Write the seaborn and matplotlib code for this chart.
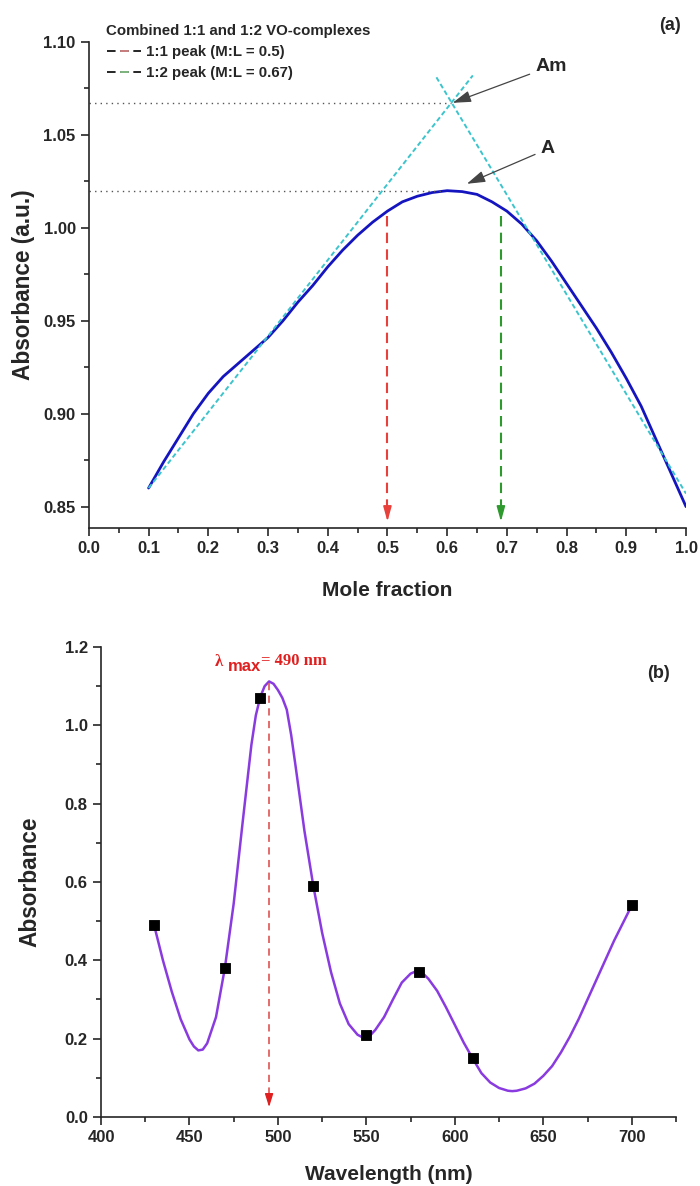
import matplotlib
matplotlib.use("Agg")
import matplotlib.pyplot as plt
from matplotlib.lines import Line2D
from matplotlib.legend_handler import HandlerTuple
from matplotlib.ticker import MultipleLocator
import numpy as np
import pandas as pd
import seaborn as sns

# ---- panel (a): Job's plot ----
mole_fraction = [0.100, 0.125, 0.150, 0.175, 0.200, 0.225, 0.250, 0.275, 0.300, 0.325,
                 0.350, 0.375, 0.400, 0.425, 0.450, 0.475, 0.500, 0.525, 0.550, 0.575,
                 0.600, 0.625, 0.650, 0.675, 0.700, 0.725, 0.750, 0.775, 0.800, 0.825,
                 0.850, 0.875, 0.900, 0.925, 0.950, 0.975, 1.000]
absorbance_a = [0.860, 0.874, 0.887, 0.900, 0.911, 0.920, 0.927, 0.934, 0.941, 0.950,
                0.960, 0.969, 0.979, 0.988, 0.996, 1.003, 1.009, 1.014, 1.017, 1.019,
                1.020, 1.0195, 1.018, 1.014, 1.009, 1.002, 0.993, 0.982, 0.970, 0.958,
                0.946, 0.933, 0.919, 0.904, 0.886, 0.868, 0.850]
tangent_left_x = [0.100, 0.643]
tangent_left_y = [0.860, 1.082]
tangent_right_x = [0.582, 1.000]
tangent_right_y = [1.081, 0.857]
am_point = (0.607, 1.067)
a_point = (0.60, 1.020)
peak_11 = 0.5
peak_12 = 0.69

# ---- panel (b): spectrum ----
wl_points = [430, 470, 490, 520, 550, 580, 610, 700]
abs_points = [0.49, 0.38, 1.07, 0.59, 0.21, 0.37, 0.15, 0.54]
wl_curve = [430, 435, 440, 445, 450, 452.5, 455, 457.5, 460, 465,
            470, 475, 480, 485, 487.5, 490, 492.5, 495, 497.5, 500,
            502.5, 505, 507.5, 510, 515, 520, 525, 530, 535, 540,
            545, 547.5, 550, 552.5, 555, 560, 565, 570, 575, 577.5,
            580, 582.5, 585, 590, 595, 600, 605, 610, 615, 620,
            625, 630, 632.5, 635, 640, 645, 650, 655, 660, 665,
            670, 675, 680, 685, 690, 695, 700]
abs_curve = [0.490, 0.400, 0.320, 0.250, 0.198, 0.180, 0.170, 0.172, 0.188, 0.255,
             0.380, 0.545, 0.750, 0.950, 1.025, 1.072, 1.100, 1.112, 1.106, 1.090,
             1.070, 1.040, 0.975, 0.895, 0.730, 0.590, 0.470, 0.370, 0.290, 0.237,
             0.210, 0.204, 0.205, 0.210, 0.222, 0.255, 0.300, 0.343, 0.366, 0.371,
             0.370, 0.364, 0.353, 0.322, 0.280, 0.235, 0.190, 0.150, 0.112, 0.088,
             0.074, 0.067, 0.066, 0.067, 0.073, 0.085, 0.105, 0.130, 0.165, 0.205,
             0.250, 0.300, 0.350, 0.400, 0.450, 0.495, 0.540]
lambda_max = 495

sns.set_style("ticks")
plt.rcParams['font.family'] = ['Liberation Sans', 'DejaVu Sans']
plt.rcParams['font.weight'] = 'bold'
plt.rcParams['axes.labelweight'] = 'bold'
plt.rcParams['axes.linewidth'] = 1.2

fig = plt.figure(figsize=(7, 11.86), dpi=100)
ax1 = fig.add_axes([0.127, 0.5548, 0.853, 0.4098])
ax2 = fig.add_axes([0.1443, 0.0582, 0.8214, 0.3963])

def style_axis(ax):
    sns.despine(ax=ax)
    ax.tick_params(which='major', direction='out', length=6, width=1.2, labelsize=12)
    ax.tick_params(which='minor', direction='out', length=3.5, width=1.2)
    for lab in ax.get_xticklabels() + ax.get_yticklabels():
        lab.set_fontweight('bold')

# panel (a)
df_a = pd.DataFrame({'x': mole_fraction, 'y': absorbance_a})
sns.lineplot(data=df_a, x='x', y='y', ax=ax1, color='#1515c0', lw=2, sort=False)
sns.lineplot(x=tangent_left_x, y=tangent_left_y, ax=ax1, color='#3cc4cc', lw=1.4,
             linestyle=(0, (2.5, 1.5)))
sns.lineplot(x=tangent_right_x, y=tangent_right_y, ax=ax1, color='#3cc4cc', lw=1.4,
             linestyle=(0, (2.5, 1.5)))
ax1.plot([0, am_point[0]], [am_point[1], am_point[1]], color='#555555', lw=1, ls=(0, (1, 3)))
ax1.plot([0, a_point[0] - 0.007], [a_point[1], a_point[1]], color='#555555', lw=1, ls=(0, (1, 3)))

for xv, col in [(peak_11, '#e8413c'), (peak_12, '#2e9a2e')]:
    ax1.plot([xv, xv], [1.0065, 0.849], color=col, lw=1.5, ls=(0, (5, 3)))
    ax1.annotate('', xy=(xv, 0.8405), xytext=(xv, 0.852),
                 arrowprops=dict(arrowstyle='-|>,head_length=0.9,head_width=0.25',
                                 color=col, lw=1.2))

ax1.annotate('Am', xy=am_point, xytext=(0.748, 1.087), fontsize=14, fontweight='bold',
             va='center', ha='left',
             arrowprops=dict(arrowstyle='-|>,head_length=0.8,head_width=0.25',
                             color='#444444', lw=0.9, shrinkA=2, shrinkB=1))
ax1.annotate('A', xy=(0.633, 1.0237), xytext=(0.757, 1.0425), fontsize=14, fontweight='bold',
             va='center', ha='left',
             arrowprops=dict(arrowstyle='-|>,head_length=0.8,head_width=0.25',
                             color='#444444', lw=0.9, shrinkA=2, shrinkB=0))

ax1.set_xlim(0, 1.0)
ax1.set_ylim(0.8385, 1.10)
ax1.xaxis.set_minor_locator(MultipleLocator(0.05))
ax1.yaxis.set_minor_locator(MultipleLocator(0.025))
ax1.set_xticks(np.arange(0, 1.01, 0.1))
ax1.set_xticklabels([f"{v:.1f}" for v in np.arange(0, 1.01, 0.1)])
ax1.set_yticks([0.85, 0.90, 0.95, 1.00, 1.05, 1.10])
ax1.set_yticklabels(['0.85', '0.90', '0.95', '1.00', '1.05', '1.10'])
ax1.set_xlabel('Mole fraction', fontsize=15, labelpad=17.5)
ax1.set_ylabel('Absorbance (a.u.)', fontsize=16.3, labelpad=6)
style_axis(ax1)

h1 = (Line2D([], [], color='black', lw=1.2, ls=(0, (5.15, 2.75))),
      Line2D([], [], color='#e89090', lw=1.2, ls=(97.25, (5.15, 100))))
h2 = (Line2D([], [], color='black', lw=1.2, ls=(0, (5.15, 2.75))),
      Line2D([], [], color='#90d090', lw=1.2, ls=(97.25, (5.15, 100))))
leg = ax1.legend([h1, h2], ['1:1 peak (M:L = 0.5)', '1:2 peak (M:L = 0.67)'],
                 handler_map={tuple: HandlerTuple(ndivide=1, pad=0)},
                 title='Combined 1:1 and 1:2 VO-complexes', loc='upper left',
                 bbox_to_anchor=(99 / 700, 1 - 17 / 1186), bbox_transform=fig.transFigure,
                 frameon=False, borderpad=0, fontsize=10.8, title_fontsize=10.8,
                 handlelength=2.33, handletextpad=0.3, labelspacing=0.45)
leg._legend_box.align = 'left'
leg.get_title().set_fontweight('bold')
for t in leg.get_texts():
    t.set_fontweight('bold')

fig.text(670 / 700, 1 - 26 / 1186, '(a)', fontsize=13, fontweight='bold', ha='center', va='center')

# panel (b)
df_b = pd.DataFrame({'wl': wl_curve, 'abs': abs_curve})
sns.lineplot(data=df_b, x='wl', y='abs', ax=ax2, color='#8a3be0', lw=1.8, sort=False)
sns.scatterplot(x=wl_points, y=abs_points, ax=ax2, marker='s', color='black', s=60,
                edgecolor='black', zorder=5)
ax2.plot([lambda_max, lambda_max], [1.108, 0.045], color='#e06060', lw=1.3, ls=(0, (4, 3)))
ax2.annotate('', xy=(lambda_max, 0.018), xytext=(lambda_max, 0.05),
             arrowprops=dict(arrowstyle='-|>,head_length=0.8,head_width=0.25',
                             color='#e02020', lw=1))
ax2.text(466.8, 1.162, 'λ', fontsize=12, color='#e02020', ha='center', va='center',
         family=['Liberation Serif', 'DejaVu Serif'])
ax2.text(471.5, 1.149, 'max', fontsize=12, color='#e02020', ha='left', va='center',
         fontweight='bold')
ax2.text(490.3, 1.165, '= 490 nm', fontsize=12, color='#e02020', ha='left', va='center',
         fontweight='bold', family=['Liberation Serif', 'DejaVu Serif'])

ax2.set_xlim(400, 725)
ax2.set_ylim(0, 1.2)
ax2.set_xticks([400, 450, 500, 550, 600, 650, 700])
ax2.xaxis.set_minor_locator(MultipleLocator(25))
ax2.set_yticks([0.0, 0.2, 0.4, 0.6, 0.8, 1.0, 1.2])
ax2.set_yticklabels(['0.0', '0.2', '0.4', '0.6', '0.8', '1.0', '1.2'])
ax2.yaxis.set_minor_locator(MultipleLocator(0.1))
ax2.set_xlabel('Wavelength (nm)', fontsize=15, labelpad=14)
ax2.set_ylabel('Absorbance', fontsize=16.3, labelpad=16.5)
style_axis(ax2)

fig.text(658 / 700, 1 - 674 / 1186, '(b)', fontsize=13, fontweight='bold', ha='center', va='center')

fig.savefig('out.png', dpi=100)
